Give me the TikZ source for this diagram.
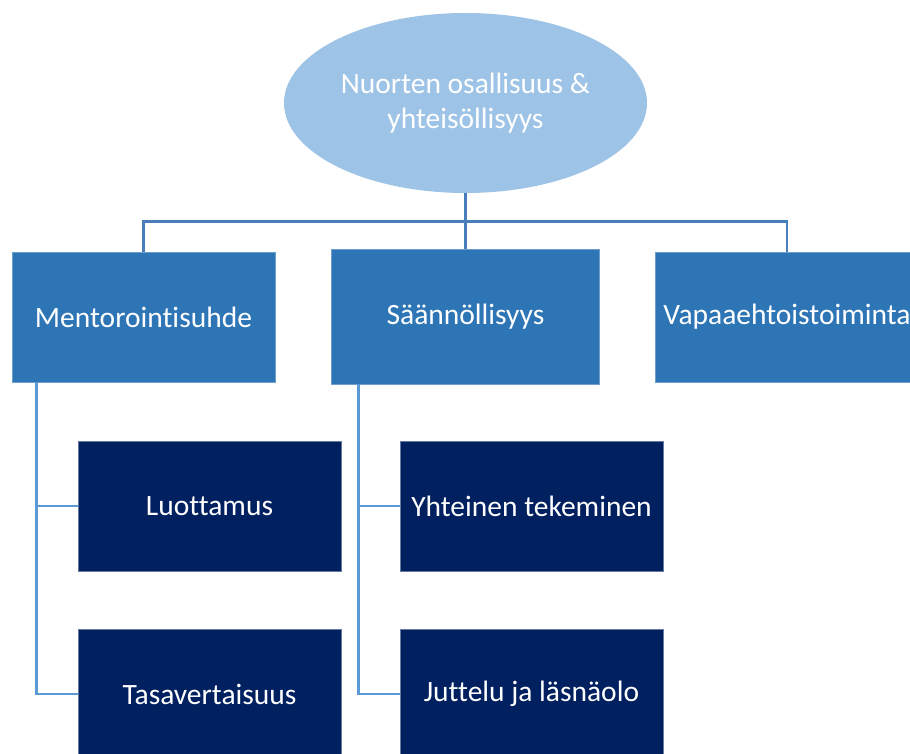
\documentclass[tikz,border=0pt]{standalone}
\usepackage{fontspec}
\setmainfont{Carlito}[Ligatures={NoCommon}]
\usetikzlibrary{shapes.geometric}
\definecolor{rootfill}{HTML}{9DC3E6}
\definecolor{midfill}{HTML}{2E75B6}
\definecolor{leaffill}{HTML}{002060}
\definecolor{trunkline}{HTML}{4A7EBB}
\definecolor{branchline}{HTML}{5B9BD5}
\begin{document}
\begin{tikzpicture}[x=1pt,y=-1pt,
  every node/.style={inner sep=0pt, text=white, font=\fontsize{29.5}{35}\selectfont},
  rootnode/.style={ellipse, fill=rootfill, minimum width=363pt, minimum height=180pt, align=center},
  midbox/.style={rectangle, fill=midfill, draw=midfill!70!white, line width=0.8pt,
                 minimum width=263pt, minimum height=130pt},
  leafbox/.style={rectangle, fill=leaffill, draw=leaffill!60!white, line width=0.8pt,
                  minimum width=263pt, minimum height=130pt},
  trunk/.style={draw=trunkline, line width=2.5pt},
  branch/.style={draw=branchline, line width=2.5pt}
]
\useasboundingbox (0,0) rectangle (910,754);
\clip (0,0) rectangle (910,754);

% root topic
\node[rootnode] (root) at (465.5,103) {Nuorten osallisuus \&\\yhteisöllisyys};

% first level
\node[midbox] (mentor) at (143.5,317) {Mentorointisuhde};
\node[midbox, minimum width=268pt, minimum height=135pt] (saann) at (465.5,316.5) {Säännöllisyys};
\node[midbox, minimum width=264pt] (vapaa) at (787,317) {Vapaaehtoistoiminta};

% second level
\node[leafbox] (luott) at (209.5,506) {Luottamus};
\node[leafbox] (tasa) at (209.5,694) {Tasavertaisuus};
\node[leafbox] (yhteinen) at (531.5,506) {Yhteinen tekeminen};
\node[leafbox] (juttelu) at (531.5,694) {Juttelu ja läsnäolo};

% root to first level
\draw[trunk] (root.south) -- (saann.north);
\draw[trunk] (mentor.north) -- ++(0,-30) -| (vapaa.north);

% first level to second level
\draw[branch] ([xshift=-107pt]mentor.south) |- (luott.west);
\draw[branch] ([xshift=-107pt]mentor.south) |- (tasa.west);
\draw[branch] ([xshift=-107pt]saann.south) |- (yhteinen.west);
\draw[branch] ([xshift=-107pt]saann.south) |- (juttelu.west);
\end{tikzpicture}
\end{document}
